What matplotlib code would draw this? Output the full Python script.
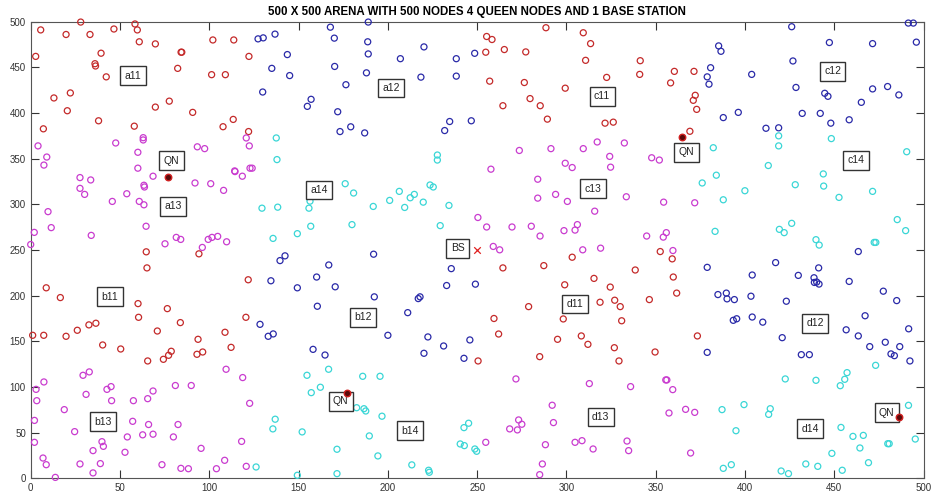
import matplotlib
matplotlib.use("Agg")
import matplotlib.pyplot as plt

plt.rcParams["font.family"] = ["Liberation Sans", "DejaVu Sans"]

# node positions, grouped by colour (cluster)
red_x = [5.6, 28, 58.4, 59.7, 46.6, 19.8, 33.2, 60.8, 69.8, 2.8, 39.4, 36, 36.3, 84.2, 84.6, 82.3, 42.3, 13, 22.2, 20.5,
         38, 7.1, 58, 69.8, 77.6, 90.7, 102, 113.7, 122.2, 101.3, 109, 107.7, 113.4, 122,
         288.5, 309.4, 255.3, 258.3, 254.8, 265.2, 277.2, 313.5, 310.7, 341.3, 341, 360.4, 371.4, 358.3, 257, 276.4,
         299.3, 322.5, 279.6, 264.4, 285.3, 289.3, 321.6, 326.2, 372.1, 371, 372.9, 369.1,
         64.7, 65.1, 94.2, 121.8, 8.7, 16.6, 60.1, 76.5,
         352.5, 359.2, 303.2, 264.4, 287.3, 338.5, 359.8, 315.4, 299, 324.5, 361.7, 346.4, 318.8, 327, 330.1, 278.8,
         1.1, 7.3, 19.8, 26.1, 32.6, 36.5, 60.4, 83.8, 120.5, 40.3, 50.4, 70.9, 65.5, 74.3, 77.2, 78.7, 93.7, 93.1,
         96.3, 108.8, 112.2,
         250.5, 259.4, 298.2, 330.9, 262, 295, 308.3, 312, 285, 326.8, 329.4, 349.6, 373.3]
red_y = [491, 499.6, 497.5, 491, 492, 486, 486, 478, 475.7, 462, 465.5, 454, 451.5, 466.6, 466.6, 448.9, 439.6, 416.5, 422, 402.5,
         391.5, 382.7, 385.6, 406.5, 413, 400.7, 480, 480, 462, 442, 442, 385, 393, 379.7,
         493.4, 487.9, 483.8, 480.5, 466.6, 469.5, 466.9, 476, 457.7, 457.3, 442.3, 445.6, 445.6, 433, 434.9, 433.4,
         427.2, 439, 415.8, 408, 408, 393.3, 388.9, 390, 419.4, 413.9, 404, 380,
         248, 230.4, 245.8, 217.4, 208.6, 197.9, 191.3, 185.8,
         248.3, 240.3, 242.1, 230.4, 232.9, 228.1, 220.4, 218.9, 211.9, 209.4, 202.8, 195.7, 192.8, 195, 188, 188,
         156.6, 156.6, 155.5, 162.1, 168, 169.8, 176.3, 170.5, 176.3, 146, 141.6, 161.3, 128.5, 130.3, 134.7, 139.1, 152.2, 135.8,
         138.3, 159.9, 143.4,
         128.5, 175, 174.5, 172.5, 158, 152.2, 155.9, 146.7, 133.2, 143, 128.5, 138.3, 155.9]

blue_x = [127.3, 130.2, 136.8, 167.8, 189, 170, 188.7, 189, 143.7, 135, 145, 170.2, 188, 176.5, 129.9, 157, 154.9, 171.9,
          173.2, 179.2, 187, 207, 220.2, 218.5, 238.3, 238.3, 248.6, 234.6, 231.8, 246.7,
          426.1, 491.4, 494.2, 495.9, 447.2, 471.4, 385.2, 386.5, 426.8, 380.7, 378.8, 379.8, 403.7, 428.5, 444.6, 446.4,
          471.4, 479.8, 486.1, 465.1, 387.8, 396.2, 432, 442.1, 448, 458.3, 411.7, 418.8,
          142.4, 139.6, 166.9, 192, 134.5, 160.1, 149.3, 170.5, 192.4, 217, 218, 160.5, 211.1, 235.5, 232.9, 249,
          463.4, 378.8, 417.1, 441.2, 404, 429.8, 438.6, 438.8, 440.1, 441.4, 458.3, 477.4, 484.9, 384.8, 389.5, 389.9,
          394, 403.3, 423.1, 467.2, 404, 393.4, 395.3, 409.9,
          128.4, 133, 135.8, 158.1, 164.8, 200, 222.4, 231.2, 220.2, 245.9, 242.6,
          420.8, 378.8, 431.5, 436, 456.6, 463.4, 469.8, 478.5, 486.6, 481.7, 483.6, 491.6, 492.3]
blue_y = [481.2, 482.3, 486.4, 494, 499.6, 482, 478, 464.7, 464, 448.9, 441, 451, 444, 431, 423, 415, 407.3, 401.4,
          379.7, 384.9, 378.2, 459.5, 472.4, 439.3, 459.5, 440.4, 465.4, 390.7, 380.8, 391.5,
          494.5, 498.5, 498.5, 477.6, 477.2, 476, 473.5, 467.6, 457, 449.6, 439.6, 431.6, 442.3, 428, 421.6, 418.3,
          426.4, 429, 419.8, 411.7, 395, 400.7, 399.6, 399.6, 388.9, 392.6, 383.3, 383.8,
          243.6, 238.4, 233.6, 245.4, 216.3, 220.4, 208.6, 209.7, 198.7, 196.8, 198.7, 188.4, 181.4, 229.6, 211.1, 212.6,
          248.3, 231, 236.2, 230.4, 222.6, 222.2, 219.6, 214.5, 214.9, 212.7, 215.6, 204.9, 194.6, 201.2, 202.8, 196.5,
          195.7, 199.4, 193.9, 178, 176.6, 173, 174.7, 171,
          168.6, 155.5, 158.1, 141.2, 135, 156.6, 154.8, 144.9, 136.9, 151.5, 131.4,
          154, 137.9, 135.4, 135.4, 162.6, 155.9, 144.2, 149, 144.2, 136.2, 134.3, 163.7, 128.5]

magenta_x = [4.1, 9, 7.4, 47.6, 63, 63, 60, 60, 93.3, 97.4, 120.7, 122.4, 122.8, 124, 114.2,
             273.6, 291.3, 309.4, 317.2, 332.4, 324.2, 347.7, 352, 299.3, 303.2, 324.7, 257.7,
             27.6, 33.6, 27.6, 30.2, 53.8, 45.7, 68.5, 63.4, 63.7, 60.8, 63.4, 92, 100.8, 108, 114.4, 118.5, 9.7, 2,
             11.5, 0, 33.9, 64.6, 75.2, 81.5, 84, 96.1, 99.4, 101.5, 104.7, 109.7,
             250.4, 283.9, 283.9, 293.9, 300.5, 315.8, 333.5, 354.4, 371.8, 255.3, 269.5, 280.3, 285.2, 298.6, 304.8,
             306.1, 344.9, 354.2, 355.9, 359.6, 259, 262.6, 309.1, 319.1,
             7.4, 3, 3.4, 2.1, 2.1, 6.9, 8.7, 13.8, 18.8, 24.6, 29.3, 32.8, 31, 27.6, 34.9, 34.9, 39, 39.9, 40.7, 42.7,
             45, 45.3, 52.8, 54.1, 57.1, 57.5, 65.5, 68.5, 66, 62.7, 68.5, 79.9, 82.5, 81, 89.9, 73.5, 84.1, 88.3,
             95.4, 104, 108.6, 109.4, 118.7, 122.6, 118.1, 120.7,
             271.7, 312.8, 335.9, 355.6, 356.2, 359.5, 292, 292.7, 273.2, 275, 272.5, 268.2, 254.8, 288.2, 304.8,
             308.7, 314.9, 333.9, 334.8, 286.5, 285, 357.4, 366.7, 371.8, 369.5]
magenta_y = [364, 351.8, 343, 367.2, 373, 370.5, 357, 339.6, 363, 361, 372.7, 364, 339.6, 339.6, 336.6,
             359, 361, 361, 368.3, 367.2, 352.5, 351, 348.5, 345, 340.3, 340.7, 338.5,
             329.3, 326.7, 317.5, 310.9, 311.6, 303.2, 330.8, 320.9, 319, 303.2, 299.5, 323.4, 322.6, 315.3, 335.9,
             330.8, 292, 269.3, 274.5, 256, 266, 276, 256.8, 263.8, 261.6, 252.8, 261.6, 263.8, 264.9, 259,
             285.6, 327.5, 306.8, 310.9, 303.2, 292.5, 308.3, 302.4, 301.7, 275.2, 275.2, 276, 265.3, 271.2, 271.8,
             277.8, 265.3, 264.1, 269, 249.4, 253.9, 250.2, 250.2, 252,
             105.5, 97.4, 85, 63.4, 39.4, 22.2, 14.9, 1, 75.2, 51.1, 112.8, 116.5, 91.9, 15.7, 30.3, 5.9, 16.1, 40.1,
             35, 97.4, 100.4, 85, 28.5, 45.3, 62.4, 85, 87.2, 95.6, 58.9, 47.6, 48.3, 45.3, 58.9, 101.6, 101.6, 14.9,
             10.9, 10.5, 32.8, 10.5, 19.7, 119.4, 110.3, 82.1, 40.4, 13.1,
             108.8, 103.7, 100.4, 107.7, 107.7, 97.1, 80, 61, 63.9, 59.2, 53, 54.1, 39.4, 36.8, 39.4, 41.2, 32.1,
             40.8, 30.3, 15.7, 4, 71.5, 75.5, 72.2, 27.7]

cyan_x = [137.5, 137.9, 227.7, 227.7,
          418.8, 418.8, 448.3, 382.2, 490.5, 413,
          176.1, 180.8, 156.4, 155.8, 129.5, 138.3, 156.8, 149.3, 135.7, 179.9, 191.8, 201, 206.4, 209.4, 212.5,
          214.8, 219.8, 223.6, 225.4, 234.2, 229.3,
          383.9, 376, 399.9, 387.8, 428.1, 443.8, 444, 452.6, 471.4, 485.2, 489.9, 383.2, 426.1, 419.2, 421.9,
          439.7, 441.5, 472.3, 473.2,
          126.2, 166.8, 154.7, 162.2, 157.1, 185.9, 195.6, 182.5, 186.6, 187.6, 196.7, 136.9, 135.6, 152, 189.6,
          171.5, 194.4, 149.3, 171.5, 213.4, 222.8, 223.2, 242.6, 245.2, 240.5, 242.8, 248.7, 249.7,
          473.1, 457.1, 455.8, 453.3, 422.5, 439.7, 387.1, 399.4, 414.1, 413.2, 394.9, 453.7, 460.4, 466.2, 464.3,
          479.9, 480.7, 495.3, 491.5, 448.6, 469.1, 387.8, 392.3, 434, 440.7, 420.2, 424.3, 454.4]
cyan_y = [372.7, 349, 354, 348.5,
          375, 364, 372, 362, 357.6, 342.5,
          322.6, 312.4, 303.5, 295.8, 295.8, 296.9, 276, 267.9, 262.7, 277.8, 297.7, 304.3, 314.2, 296.6, 307.2,
          310.9, 302.4, 321.2, 319, 298.8, 276.7,
          331.9, 323.4, 314.9, 305, 321.5, 333.3, 320, 307.6, 314.2, 283.3, 271.2, 270.4, 279.2, 272.6, 269,
          261.3, 255.4, 258.3, 258.3,
          12.4, 119.4, 112.8, 99.7, 93.8, 111.7, 111.7, 77.3, 76.2, 73.7, 68, 64.7, 54.1, 50.8, 46.4,
          31.8, 24.5, 3.3, 5.1, 14.7, 8.8, 6.6, 55.5, 60.3, 37.6, 35.8, 32.1, 29.6,
          123.7, 115.7, 108.4, 101.4, 108.8, 107.3, 75.2, 80.7, 76.2, 70, 52.1, 55.7, 45.9, 47, 33.2,
          37.9, 37.9, 43, 79.9, 27.3, 17.1, 10.9, 14.9, 15.7, 13.1, 8, 5.1, 8.8]

queen_x = [76.9, 364.8, 176.9, 486.1]
queen_y = [330, 373.4, 93.2, 67.5]
base_x = [250]
base_y = [250]

# zone labels
label_names = ["a11", "a12", "c11", "c12", "a13", "a14", "c13", "c14", "BS",
               "b11", "b12", "d11", "d12", "b13", "b14", "d13", "d14",
               "QN", "QN", "QN", "QN"]
label_x = [57.3, 201.7, 319.9, 449, 79.8, 161.4, 314.8, 462.1, 239.1,
           44.4, 185.9, 304.8, 439.1, 40.3, 212.4, 319.1, 436.3,
           78.9, 367.3, 173.6, 479.3]
label_y = [442.5, 428.8, 420, 447, 299.4, 317.3, 318.7, 349.8, 253.5,
           200.5, 177.8, 192.5, 171.2, 63.3, 53.7, 68.6, 56,
           349.5, 358.3, 86, 73.4]

fig = plt.figure(figsize=(9.33, 5.0), dpi=100)
ax = fig.add_axes([0.0329, 0.0434, 0.9571, 0.9132])

kw = dict(s=19, facecolors="none", linewidths=0.9, clip_on=False, zorder=3)
ax.scatter(red_x, red_y, edgecolors="#c42a2a", **kw)
ax.scatter(blue_x, blue_y, edgecolors="#2a2aa8", **kw)
ax.scatter(magenta_x, magenta_y, edgecolors="#c93ccf", **kw)
ax.scatter(cyan_x, cyan_y, edgecolors="#3ad6d6", **kw)
ax.scatter(queen_x, queen_y, s=22, facecolors="#5a0a0a", edgecolors="#d02020",
           linewidths=1.0, clip_on=False, zorder=6)
ax.scatter(base_x, base_y, s=22, marker="x", color="#e02020", linewidths=0.9, zorder=6)

for name, lx, ly in zip(label_names, label_x, label_y):
    ax.text(lx, ly - 1.5, name, fontsize=7.5, ha="center", va="center", color="#222222", zorder=5,
            bbox=dict(boxstyle="square,pad=0.42", facecolor="white", edgecolor="#333333", linewidth=1.0))

ax.set_xlim(0, 500)
ax.set_ylim(0, 500)
ax.set_xticks(range(0, 501, 50))
ax.set_yticks(range(0, 501, 50))
ax.tick_params(direction="in", length=6, width=0.8, top=True, right=True,
               labeltop=False, labelright=False, labelsize=7, colors="#333333")
for sp in ax.spines.values():
    sp.set_color("#555555")
    sp.set_linewidth(0.8)

ax.set_title("500 X 500 ARENA WITH 500 NODES 4 QUEEN NODES AND 1 BASE STATION",
             fontsize=8.3, fontweight="bold", pad=4.5)

fig.savefig("out.png", dpi=100)
